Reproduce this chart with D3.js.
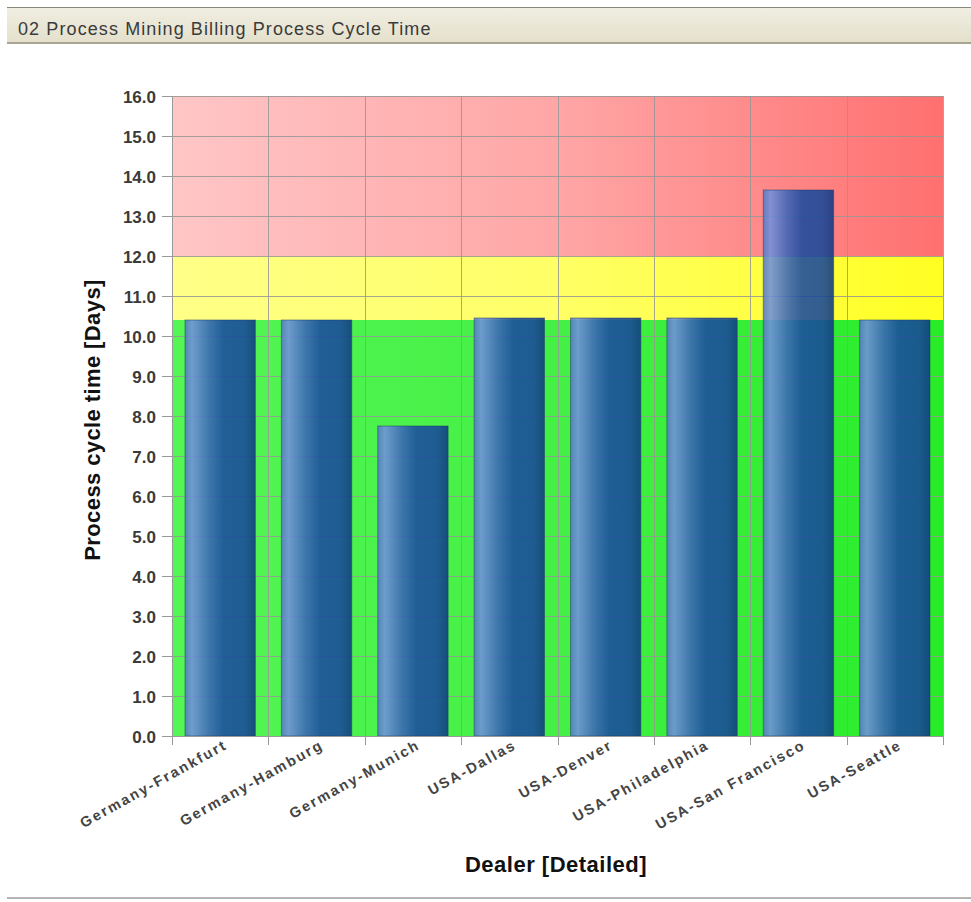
<!DOCTYPE html>
<html>
<head>
<meta charset="utf-8">
<script src="https://cdn.jsdelivr.net/npm/d3@7"></script>
<style>
  html, body { margin: 0; padding: 0; background: #ffffff; }
  svg { display: block; }
</style>
</head>
<body>
<svg id="chart" width="971" height="902"></svg>
<script>
// Billing process cycle time per dealer, in days
const dealers = [
  "Germany-Frankfurt", "Germany-Hamburg", "Germany-Munich", "USA-Dallas",
  "USA-Denver", "USA-Philadelphia", "USA-San Francisco", "USA-Seattle"
];
const cycleDays = [10.4, 10.4, 7.75, 10.45, 10.45, 10.45, 13.65, 10.4];
const yTicks = [0, 1, 2, 3, 4, 5, 6, 7, 8, 9, 10, 11, 12, 13, 14, 15, 16];
// Traffic-light threshold bands (from, to)
const bandNames = ["good", "warning", "critical"];
const bandFrom = [0, 10.4, 12];
const bandTo = [10.4, 12, 16];

const svg = d3.select("#chart");
const W = 971, H = 902;
const m = { left: 172, right: 28, top: 96, bottom: 166 };
const pw = W - m.left - m.right, ph = H - m.top - m.bottom;
const FONT = "Liberation Sans, Arial, sans-serif";

const defs = svg.append("defs");

// title bar gradient
const tg = defs.append("linearGradient").attr("id", "titleGrad").attr("x1", 0).attr("y1", 0).attr("x2", 0).attr("y2", 1);
tg.append("stop").attr("offset", "0%").attr("stop-color", "#f0eee2");
tg.append("stop").attr("offset", "100%").attr("stop-color", "#e4e0cc");

// band gradients (light on the left, saturated on the right)
const bandStops = {
  critical: ["#ffc6c6", "#ffa6a6", "#ff7070"],
  warning: ["#ffff88", "#ffff66", "#ffff22"],
  good: ["#55f555", "#44f044", "#28ec28"]
};
bandNames.forEach(n => {
  const g = defs.append("linearGradient").attr("id", "band-" + n).attr("x1", 0).attr("y1", 0).attr("x2", 1).attr("y2", 0);
  g.append("stop").attr("offset", "0%").attr("stop-color", bandStops[n][0]);
  g.append("stop").attr("offset", "50%").attr("stop-color", bandStops[n][1]);
  g.append("stop").attr("offset", "100%").attr("stop-color", bandStops[n][2]);
});

// cylindrical bar shading
const bg = defs.append("linearGradient").attr("id", "barGrad").attr("x1", 0).attr("y1", 0).attr("x2", 1).attr("y2", 0);
[["0%", "#5479c2"], ["10%", "#7291dd"], ["35%", "#3a64b8"], ["55%", "#1a4aa0"], ["85%", "#18479a"], ["100%", "#0e3880"]]
  .forEach(s => bg.append("stop").attr("offset", s[0]).attr("stop-color", s[1]));

// title bar
svg.append("rect").attr("x", 7).attr("y", 8).attr("width", W - 7).attr("height", 35).attr("fill", "url(#titleGrad)");
svg.append("line").attr("x1", 7).attr("x2", W).attr("y1", 7.5).attr("y2", 7.5).attr("stroke", "#8a8878").attr("stroke-width", 1);
svg.append("line").attr("x1", 7).attr("x2", W).attr("y1", 43).attr("y2", 43).attr("stroke", "#a9a595").attr("stroke-width", 2);
svg.append("text").attr("x", 18).attr("y", 35)
  .attr("font-family", FONT).attr("font-size", 18).attr("letter-spacing", "1.1px").attr("fill", "#3a3a3a")
  .text("02 Process Mining Billing Process Cycle Time");

// bottom separator
svg.append("line").attr("x1", 7).attr("x2", W).attr("y1", 898).attr("y2", 898).attr("stroke", "#b5b5b5").attr("stroke-width", 2);

const x = d3.scaleBand().domain(dealers).range([0, pw]).paddingInner(0.27).paddingOuter(0.135);
const xEdge = d3.scaleLinear().domain([0, dealers.length]).range([0, pw]);
const y = d3.scaleLinear().domain([0, 16]).range([ph, 0]);

const g = svg.append("g").attr("transform", `translate(${m.left},${m.top})`);

// threshold bands
g.selectAll("rect.band").data(bandNames).join("rect").attr("class", "band")
  .attr("x", 0).attr("width", pw)
  .attr("y", (d, i) => y(bandTo[i])).attr("height", (d, i) => y(bandFrom[i]) - y(bandTo[i]))
  .attr("fill", d => "url(#band-" + d + ")");

// grid
g.selectAll("line.hgrid").data(yTicks).join("line").attr("class", "hgrid")
  .attr("x1", 0).attr("x2", pw).attr("y1", d => Math.round(y(d)) + 0.5).attr("y2", d => Math.round(y(d)) + 0.5)
  .attr("stroke", "#969696").attr("stroke-opacity", 0.85);
g.selectAll("line.vgrid").data(d3.range(dealers.length + 1)).join("line").attr("class", "vgrid")
  .attr("y1", 0).attr("y2", ph).attr("x1", d => Math.round(xEdge(d)) + 0.5).attr("x2", d => Math.round(xEdge(d)) + 0.5)
  .attr("stroke", "#969696").attr("stroke-opacity", 0.85);

// bars
g.selectAll("rect.bar").data(dealers).join("rect").attr("class", "bar")
  .attr("x", d => x(d)).attr("width", x.bandwidth())
  .attr("y", (d, i) => y(cycleDays[i])).attr("height", (d, i) => y(0) - y(cycleDays[i]))
  .attr("fill", "url(#barGrad)").attr("fill-opacity", 0.88)
  .attr("stroke", "#1b3d66").attr("stroke-opacity", 0.5).attr("stroke-width", 1);

// y axis
const yAxis = g.append("g")
  .call(d3.axisLeft(y).tickValues(yTicks).tickFormat(d3.format(".1f")).tickSize(10).tickPadding(6));
yAxis.select(".domain").attr("stroke", "#999");
yAxis.selectAll(".tick line").attr("stroke", "#999");
yAxis.selectAll("text").attr("font-family", FONT).attr("font-size", 17)
  .attr("fill", "#3a3a3a").attr("font-weight", "bold").attr("dy", "0.36em");

// x axis: ticks at category edges, labels rotated
const xAxisG = g.append("g").attr("transform", `translate(0,${ph})`);
xAxisG.append("line").attr("x1", 0).attr("x2", pw).attr("y1", 0.5).attr("y2", 0.5).attr("stroke", "#999");
xAxisG.selectAll("line.tk").data(d3.range(dealers.length + 1)).join("line").attr("class", "tk")
  .attr("x1", d => Math.round(xEdge(d)) + 0.5).attr("x2", d => Math.round(xEdge(d)) + 0.5)
  .attr("y1", 0).attr("y2", 9).attr("stroke", "#999");
xAxisG.selectAll("text.lbl").data(dealers).join("text").attr("class", "lbl")
  .attr("transform", d => `translate(${x(d) + x.bandwidth() / 2 + 8},${12}) rotate(-29)`)
  .attr("text-anchor", "end")
  .attr("font-family", FONT).attr("font-size", 14.5)
  .attr("font-weight", "bold").attr("letter-spacing", "2px")
  .attr("fill", "#444")
  .text(d => d);

// axis titles
svg.append("text")
  .attr("transform", `translate(100,${m.top + ph / 2 + 4}) rotate(-90)`)
  .attr("text-anchor", "middle")
  .attr("font-family", FONT).attr("font-size", 22).attr("font-weight", "bold").attr("letter-spacing", "0.4px")
  .attr("fill", "#111").text("Process cycle time [Days]");
svg.append("text")
  .attr("x", 556).attr("y", 872).attr("text-anchor", "middle")
  .attr("font-family", FONT).attr("font-size", 22).attr("font-weight", "bold").attr("letter-spacing", "0.5px")
  .attr("fill", "#111").text("Dealer [Detailed]");
</script>
</body>
</html>
